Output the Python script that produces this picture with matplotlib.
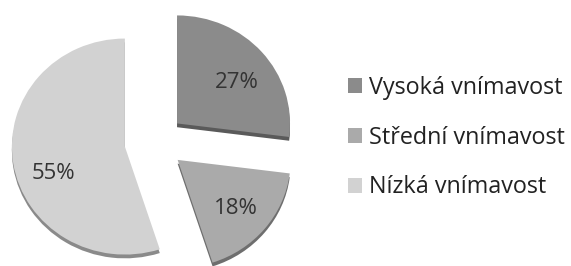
import matplotlib.pyplot as plt
from matplotlib.patches import Patch

# hodnoty grafu
labels = ['Vysoká vnímavost', 'Střední vnímavost', 'Nízká vnímavost']
values = [27, 18, 55]
colors = ['#8b8b8b', '#aaaaaa', '#d2d2d2']
shadow_colors = ['#5a5a5a', '#6e6e6e', '#8a8a8a']

plt.rcParams['font.family'] = ['Open Sans', 'DejaVu Sans']

fig = plt.figure(figsize=(5.71, 2.66), dpi=100)
ax = fig.add_axes([0, 0, 1, 1])

rx, ry = 113.0, 108.0   # px per unit
cx, cy = 155.0, 142.0   # stred kolace v px (od leveho horniho rohu)
ax.axis('off')

explode = [0.26, 0.26, 0.27]

# spodni stin (3D dojem)
ax.pie(values, colors=shadow_colors, startangle=90, counterclock=False,
       explode=explode, center=(0, -0.035), radius=1.0,
       wedgeprops=dict(linewidth=0))

wedges, texts, autotexts = ax.pie(
    values, colors=colors, startangle=90, counterclock=False,
    explode=explode, radius=1.0, autopct='%d%%', pctdistance=0.7,
    wedgeprops=dict(linewidth=0),
    textprops=dict(fontsize=16, color='#333333'))

# posun popisku kvuli perspektive
shifts = [(0.0, -0.08), (-0.02, 0.0), (0.06, -0.14)]
for t, (dx, dy) in zip(autotexts, shifts):
    x, y = t.get_position()
    t.set_position((x + dx, y + dy))

ax.set_aspect('auto')
ax.set_xlim(-cx / rx, (571 - cx) / rx)
ax.set_ylim(-(266 - cy) / ry, cy / ry)

handles = [Patch(facecolor=c, edgecolor='none') for c in colors]
fig.legend(handles, labels, loc='center left', bbox_to_anchor=(0.573, 0.482),
           frameon=False, fontsize=16.8, handlelength=0.6, handleheight=0.6,
           handletextpad=0.3, labelspacing=1.1, labelcolor='#222222')

fig.savefig('out.png', dpi=100, facecolor='white')
